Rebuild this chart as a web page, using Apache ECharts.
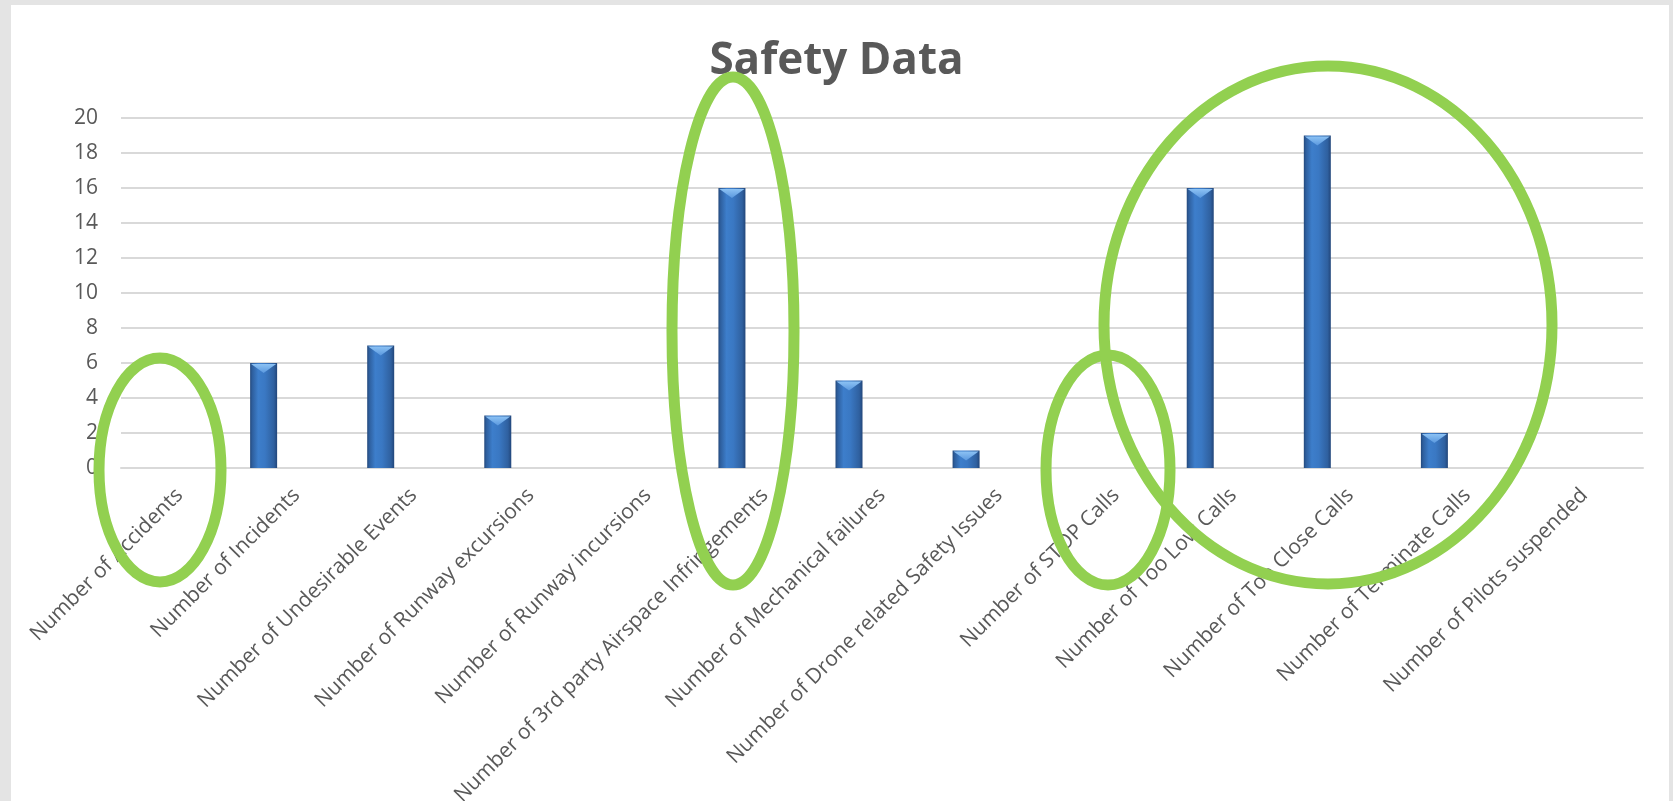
<!DOCTYPE html>
<html>
<head>
<meta charset="utf-8">
<script src="https://cdn.jsdelivr.net/npm/echarts@6/dist/echarts.min.js"></script>
<style>
  html, body { margin: 0; padding: 0; background: #e4e4e4; width: 1673px; height: 801px; overflow: hidden; }
  #panel { position: absolute; left: 11px; top: 5px; width: 1658px; height: 796px; background: #ffffff; }
  #chart { position: absolute; left: 0; top: 0; width: 1673px; height: 801px; }
</style>
</head>
<body>
<div id="panel"></div>
<div id="chart"></div>
<script>
const categories = [
  'Number of Accidents',
  'Number of Incidents',
  'Number of Undesirable Events',
  'Number of Runway excursions',
  'Number of Runway incursions',
  'Number of 3rd party Airspace Infringements',
  'Number of Mechanical failures',
  'Number of Drone related Safety Issues',
  'Number of STOP Calls',
  'Number of Too Low Calls',
  'Number of Too Close Calls',
  'Number of Terminate Calls',
  'Number of Pilots suspended'
];
const values = [0, 6, 7, 3, 0, 16, 5, 1, 0, 16, 19, 2, 0];
const yTicks = [0, 2, 4, 6, 8, 10, 12, 14, 16, 18, 20];

const BAR_W = 27;
const BAR_GAP = 0.222;
const BAR_SHIFT = BAR_W * (1 + BAR_GAP);

const chart = echarts.init(document.getElementById('chart'));

const barColor = new echarts.graphic.LinearGradient(0, 0, 1, 0, [
  { offset: 0, color: '#24497c' },
  { offset: 0.08, color: '#2e5f9e' },
  { offset: 0.3, color: '#3d7ecb' },
  { offset: 0.55, color: '#3a78c3' },
  { offset: 0.88, color: '#2f609f' },
  { offset: 1, color: '#22467a' }
]);

chart.setOption({
  backgroundColor: 'transparent',
  animation: false,
  title: {
    text: 'Safety Data',
    left: 'center',
    top: 34,
    textStyle: { fontFamily: 'Open Sans', fontWeight: 'bold', fontSize: 44, color: '#595959' }
  },
  grid: { left: 121, right: 30, top: 118, bottom: 333, containLabel: false, outerBoundsMode: 'none' },
  xAxis: {
    type: 'category',
    data: categories,
    axisLine: { show: true, lineStyle: { color: '#d9d9d9', width: 2 } },
    axisTick: { show: false },
    axisLabel: {
      interval: 0, rotate: 45, margin: 24,
      color: '#595959', fontFamily: 'Open Sans', fontSize: 21
    }
  },
  yAxis: {
    type: 'value',
    min: yTicks[0], max: yTicks[yTicks.length - 1], interval: 2,
    axisLine: { show: false },
    axisTick: { show: false },
    splitLine: { lineStyle: { color: '#d9d9d9', width: 2 } },
    axisLabel: { margin: 23, color: '#595959', fontFamily: 'Open Sans', fontSize: 21 }
  },
  series: [
    {
      type: 'bar',
      data: values,
      barWidth: BAR_W,
      barGap: (BAR_GAP * 100) + '%',
      itemStyle: { color: barColor, borderWidth: 0 },
      z: 2
    },
    { type: 'bar', data: [], barWidth: BAR_W },
    { type: 'bar', data: [], barWidth: BAR_W },
    {
      type: 'custom',
      data: values.map((v, i) => [i, v]),
      z: 5,
      renderItem: function (params, api) {
        const v = api.value(1);
        if (!v) return null;
        const p = api.coord([api.value(0), v]);
        const xc = p[0] - BAR_SHIFT;
        const x0 = xc - BAR_W / 2 + 1;
        const x1 = xc + BAR_W / 2 - 1;
        const y = p[1] + 1;
        return {
          type: 'polygon',
          shape: { points: [[x0, y], [x1, y], [xc, y + 9]] },
          style: {
            fill: new echarts.graphic.LinearGradient(0, 0, 0, 1, [
              { offset: 0, color: '#8cc2f4' },
              { offset: 1, color: '#5a98de' }
            ])
          }
        };
      }
    }
  ],
  graphic: [
    { type: 'ellipse', z: 100, shape: { cx: 160, cy: 470, rx: 61, ry: 112 }, style: { fill: 'none', stroke: '#92d050', lineWidth: 11 } },
    { type: 'ellipse', z: 100, shape: { cx: 733, cy: 331, rx: 61, ry: 254 }, style: { fill: 'none', stroke: '#92d050', lineWidth: 11 } },
    { type: 'ellipse', z: 100, shape: { cx: 1108, cy: 470, rx: 62, ry: 115 }, style: { fill: 'none', stroke: '#92d050', lineWidth: 11 } },
    { type: 'ellipse', z: 100, shape: { cx: 1328, cy: 325, rx: 224, ry: 259 }, style: { fill: 'none', stroke: '#92d050', lineWidth: 11 } }
  ]
});
</script>
</body>
</html>
